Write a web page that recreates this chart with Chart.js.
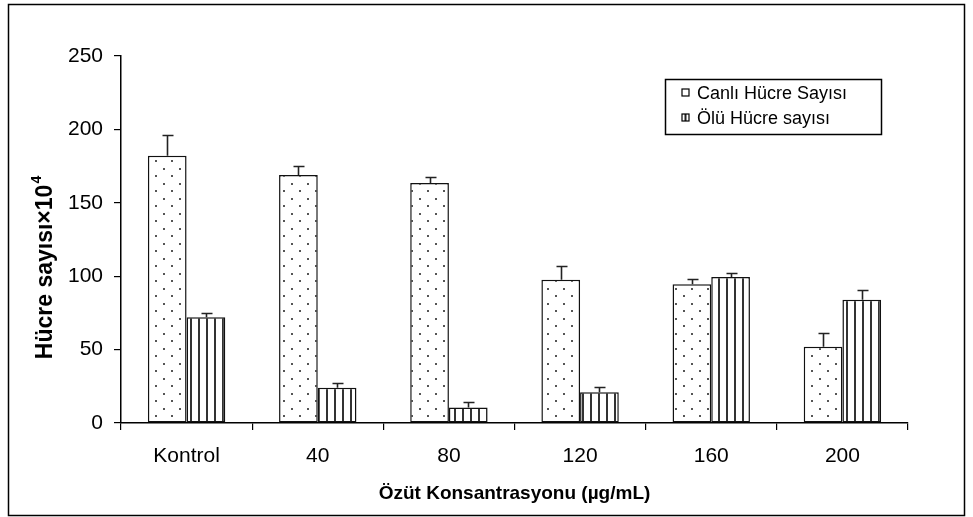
<!DOCTYPE html>
<html>
<head>
<meta charset="utf-8">
<script src="https://cdn.jsdelivr.net/npm/chart.js@4/dist/chart.umd.min.js"></script>
<style>
  html, body { margin: 0; padding: 0; background: #fff; }
  #wrap { width: 973px; height: 517px; }
</style>
</head>
<body>
<div id="wrap"><canvas id="c" width="973" height="517"></canvas></div>
<script>
// Concentrations of the extract on the x axis
const categories = ['Kontrol', '40', '80', '120', '160', '200'];

// Live cell counts (×10^4) and their standard errors
const canliLabel = 'Canlı Hücre Sayısı';
const canliValues = [182, 169, 163.5, 97.5, 94.5, 52];
const canliErrors = [14, 6, 4, 9.5, 3.5, 9.5];

// Dead cell counts (×10^4) and their standard errors
const oluLabel = 'Ölü Hücre sayısı';
const oluValues = [72, 24, 10.5, 21, 99.5, 84];
const oluErrors = [3, 3, 3.5, 3.5, 2.5, 6.5];

// Value axis
const yMin = 0;
const yMax = 250;
const yStep = 50;

const xTitle = 'Özüt Konsantrasyonu (µg/mL)';
const yTitleMain = 'Hücre sayısı×10';
const yTitleSup = '4';

const FONT = '"Liberation Sans", Arial, Helvetica, sans-serif';

// Dotted fill for the live-cell bars
function dotPattern() {
  const t = document.createElement('canvas');
  t.width = 16; t.height = 15;
  const g = t.getContext('2d');
  g.fillStyle = '#fff';
  g.fillRect(0, 0, 16, 15);
  g.fillStyle = '#555';
  g.fillRect(3, 3, 2, 2);
  g.fillRect(11, 10, 2, 2);
  return g.createPattern(t, 'repeat');
}

// Vertical stripes for the dead-cell bars
function stripePattern() {
  const t = document.createElement('canvas');
  t.width = 8; t.height = 4;
  const g = t.getContext('2d');
  g.fillStyle = '#fff';
  g.fillRect(0, 0, 8, 4);
  g.fillStyle = '#333';
  g.fillRect(6, 0, 2, 4);
  return g.createPattern(t, 'repeat');
}

const ctx0 = document.getElementById('c').getContext('2d');
const dots = dotPattern();
const stripes = stripePattern();

const errorSets = [canliErrors, oluErrors];

const decorations = {
  id: 'decorations',
  beforeDraw(chart) {
    const ctx = chart.ctx;
    ctx.save();
    ctx.fillStyle = '#fff';
    ctx.fillRect(0, 0, chart.width, chart.height);
    ctx.strokeStyle = '#000';
    ctx.lineWidth = 1.5;
    ctx.strokeRect(8.5, 4.5, 956, 511);
    ctx.restore();
  },
  afterDatasetsDraw(chart) {
    // upward error whiskers with caps
    const ctx = chart.ctx;
    const y = chart.scales.y;
    ctx.save();
    ctx.strokeStyle = '#222';
    ctx.lineWidth = 1.6;
    chart.data.datasets.forEach((ds, d) => {
      const meta = chart.getDatasetMeta(d);
      meta.data.forEach((el, i) => {
        const v = ds.data[i];
        const e = errorSets[d][i];
        const yTop = Math.round(y.getPixelForValue(v + e)) + 0.5;
        const yBase = y.getPixelForValue(v);
        const x = Math.round(el.x) + 0.5;
        ctx.beginPath();
        ctx.moveTo(x, yBase);
        ctx.lineTo(x, yTop);
        ctx.moveTo(x - 5, yTop);
        ctx.lineTo(x + 6, yTop);
        ctx.stroke();
      });
    });
    ctx.restore();
  },
  afterDraw(chart) {
    const ctx = chart.ctx;
    ctx.save();
    // legend box
    const bx = 665.5, by = 79.5, bw = 216, bh = 55;
    ctx.fillStyle = '#fff';
    ctx.fillRect(bx, by, bw, bh);
    ctx.strokeStyle = '#000';
    ctx.lineWidth = 1.5;
    ctx.strokeRect(bx, by, bw, bh);
    const rows = [
      { y: 93, label: chart.data.datasets[0].label, stripe: false },
      { y: 118, label: chart.data.datasets[1].label, stripe: true }
    ];
    ctx.font = '18px ' + FONT;
    ctx.textBaseline = 'middle';
    ctx.textAlign = 'left';
    rows.forEach(r => {
      ctx.fillStyle = '#fff';
      ctx.fillRect(682, r.y - 4, 7, 7);
      if (r.stripe) {
        ctx.fillStyle = '#222';
        ctx.fillRect(684.5, r.y - 4, 2, 7);
      }
      ctx.strokeStyle = '#000';
      ctx.lineWidth = 1.2;
      ctx.strokeRect(682, r.y - 4, 7, 7);
      ctx.fillStyle = '#000';
      ctx.fillText(r.label, 697, r.y + 1);
    });

    // rotated value-axis title with superscript exponent
    const cx = 44, cy = 268;
    ctx.translate(cx, cy);
    ctx.rotate(-Math.PI / 2);
    const mainFont = 'bold 23px ' + FONT;
    const supFont = 'bold 14px ' + FONT;
    ctx.font = mainFont;
    const w1 = ctx.measureText(yTitleMain).width;
    ctx.font = supFont;
    const w2 = ctx.measureText(yTitleSup).width;
    const start = -(w1 + w2) / 2;
    ctx.textBaseline = 'alphabetic';
    ctx.fillStyle = '#000';
    ctx.font = mainFont;
    ctx.fillText(yTitleMain, start, 8);
    ctx.font = supFont;
    ctx.fillText(yTitleSup, start + w1 + 1, -3);
    ctx.restore();
  }
};

new Chart(ctx0, {
  type: 'bar',
  data: {
    labels: categories,
    datasets: [
      {
        label: canliLabel,
        data: canliValues,
        backgroundColor: dots,
        borderColor: '#111',
        borderWidth: 1.5,
        borderSkipped: false,
        categoryPercentage: 0.59,
        barPercentage: 1.0
      },
      {
        label: oluLabel,
        data: oluValues,
        backgroundColor: stripes,
        borderColor: '#111',
        borderWidth: 1.5,
        borderSkipped: false,
        categoryPercentage: 0.59,
        barPercentage: 1.0
      }
    ]
  },
  options: {
    responsive: false,
    animation: false,
    devicePixelRatio: 1,
    layout: { padding: { left: 0, top: 56, right: 65, bottom: 0 } },
    plugins: {
      legend: { display: false },
      tooltip: { enabled: false }
    },
    scales: {
      x: {
        type: 'category',
        grid: {
          offset: true,
          drawOnChartArea: false,
          tickLength: 7,
          color: '#000',
          lineWidth: 1.2
        },
        border: { color: '#000', width: 1.5 },
        ticks: {
          color: '#000',
          font: { family: FONT, size: 21 },
          padding: 14,
          maxRotation: 0
        },
        title: {
          display: true,
          text: xTitle,
          color: '#000',
          font: { family: FONT, size: 19, weight: 'bold' },
          padding: { top: 0, bottom: 12 }
        },
        afterFit(s) { s.height = 94; }
      },
      y: {
        min: yMin,
        max: yMax,
        grid: {
          drawOnChartArea: false,
          tickLength: 7,
          color: '#000',
          lineWidth: 1.2
        },
        border: { color: '#000', width: 1.5 },
        ticks: {
          stepSize: yStep,
          color: '#000',
          font: { family: FONT, size: 21 },
          padding: 11
        },
        afterFit(s) { s.width = 121; }
      }
    }
  },
  plugins: [decorations]
});
</script>
</body>
</html>
